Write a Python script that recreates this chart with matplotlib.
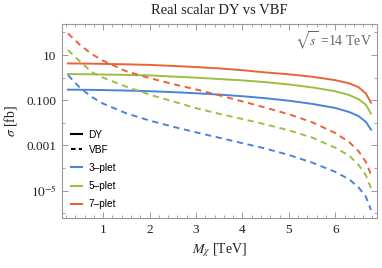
import matplotlib
matplotlib.use("Agg")
import matplotlib.pyplot as plt
from matplotlib.lines import Line2D
from matplotlib.ticker import FixedLocator, FixedFormatter, MultipleLocator

plt.rcParams['mathtext.fontset'] = 'stix'

# masses in TeV
mass = [0.24, 0.5, 0.75, 1.0, 1.5, 2.0, 2.5, 3.0, 3.5, 4.0, 4.5, 5.0, 5.5, 6.0, 6.3, 6.5, 6.66, 6.77]

# cross sections in fb
dy_3 = [0.295, 0.292, 0.288, 0.282, 0.269, 0.251, 0.229, 0.204, 0.178, 0.151, 0.123, 0.0955,
        0.0692, 0.0457, 0.0302, 0.0200, 0.0110, 0.00501]
dy_5 = [1.45, 1.43, 1.41, 1.38, 1.32, 1.26, 1.12, 1.0, 0.871, 0.759, 0.631, 0.501,
        0.372, 0.251, 0.170, 0.112, 0.0631, 0.0257]
dy_7 = [4.27, 4.22, 4.17, 4.07, 3.89, 3.67, 3.31, 2.95, 2.57, 2.14, 1.70, 1.41,
        1.10, 0.776, 0.562, 0.380, 0.200, 0.0776]
vbf_3 = [1.32, 0.355, 0.141, 0.0708, 0.0263, 0.0126, 0.00676, 0.00380, 0.00219, 0.00126,
         7.24e-4, 3.80e-4, 1.74e-4, 6.76e-5, 3.16e-5, 1.41e-5, 5.37e-6, 1.38e-6]
vbf_5 = [16.6, 5.25, 1.78, 1.0, 0.398, 0.178, 0.0891, 0.0447, 0.0251, 0.0148,
         0.00851, 0.00468, 0.00224, 7.94e-4, 3.55e-4, 1.41e-4, 4.79e-5, 1.26e-5]
vbf_7 = [91.2, 28.2, 11.2, 5.62, 1.91, 0.955, 0.525, 0.302, 0.166, 0.0891,
         0.0468, 0.0240, 0.0107, 0.00355, 0.00141, 5.62e-4, 1.86e-4, 5.01e-5]

plet_names = ['3\u2013plet', '5\u2013plet', '7\u2013plet']
colors = ['#4A84D9', '#9DBE44', '#EB6235']

y_major = [10, 0.1, 0.001, 1e-5]
y_labels = ['10', '0.100', '0.001', r'$10^{-5}$']
y_minor = [100, 1, 0.01, 1e-4, 1e-6]

fig = plt.figure(figsize=(3.82, 2.68), dpi=100)
ax = fig.add_axes([0.162, 0.185, 0.825, 0.725])

dash = (0, (3.2, 2.4))
for dy, vbf, c in zip([dy_3, dy_5, dy_7], [vbf_3, vbf_5, vbf_7], colors):
    ax.plot(mass, dy, color=c, lw=1.4)
    ax.plot(mass, vbf, color=c, lw=1.4, linestyle=dash)

ax.set_yscale('log')
ax.set_xlim(0.11, 6.9)
ax.set_ylim(10**-6.23, 10**2.37)

ax.yaxis.set_major_locator(FixedLocator(y_major))
ax.yaxis.set_major_formatter(FixedFormatter(y_labels))
ax.yaxis.set_minor_locator(FixedLocator(y_minor))
ax.yaxis.set_minor_formatter(FixedFormatter([''] * len(y_minor)))
ax.xaxis.set_major_locator(MultipleLocator(1))
ax.xaxis.set_minor_locator(MultipleLocator(0.2))

gray = '#999999'
for s in ax.spines.values():
    s.set_color(gray)
    s.set_linewidth(0.8)
ax.tick_params(which='both', direction='in', top=True, right=True, color=gray)
ax.tick_params(which='major', length=4.5, width=0.7, pad=4)
ax.tick_params(which='minor', length=2.5, width=0.6)
for lab in ax.get_xticklabels() + ax.get_yticklabels():
    lab.set_family('Liberation Serif')
    lab.set_fontsize(9.5)
    lab.set_color('#222222')

ax.set_title('Real scalar DY vs VBF', family='Liberation Serif', fontsize=10.5,
             color='#222222', pad=7)
ax.set_xlabel(r'$M_\chi$ [TeV]', family='Liberation Serif', fontsize=10, color='#222222',
              labelpad=4)
ax.set_ylabel(r'$\sigma$ [fb]', family='Liberation Serif', fontsize=10, color='#222222',
              labelpad=5)

ax.text(0.985, 0.915, r'$\sqrt{s}$ =14 TeV', transform=ax.transAxes, ha='right', va='center',
        family='Liberation Serif', fontsize=10, color='#666666')

style_handles = [Line2D([], [], color='black', lw=1.5),
                 Line2D([], [], color='black', lw=1.5, linestyle=(0, (2.2, 1.6)))]
leg1 = ax.legend(style_handles, ['DY', 'VBF'], loc='upper left', bbox_to_anchor=(0.03, 0.455),
                 frameon=False, borderpad=0, borderaxespad=0, handlelength=1.1,
                 handletextpad=0.6, labelspacing=0.45,
                 prop={'family': 'Liberation Sans', 'size': 7.3})
ax.add_artist(leg1)
plet_handles = [Line2D([], [], color=c, lw=1.5) for c in colors]
ax.legend(plet_handles, plet_names, loc='upper left', bbox_to_anchor=(0.03, 0.285),
          frameon=False, borderpad=0, borderaxespad=0, handlelength=1.1,
          handletextpad=0.6, labelspacing=0.8,
          prop={'family': 'Liberation Sans', 'size': 7.3})

fig.savefig('out.png', dpi=100)
